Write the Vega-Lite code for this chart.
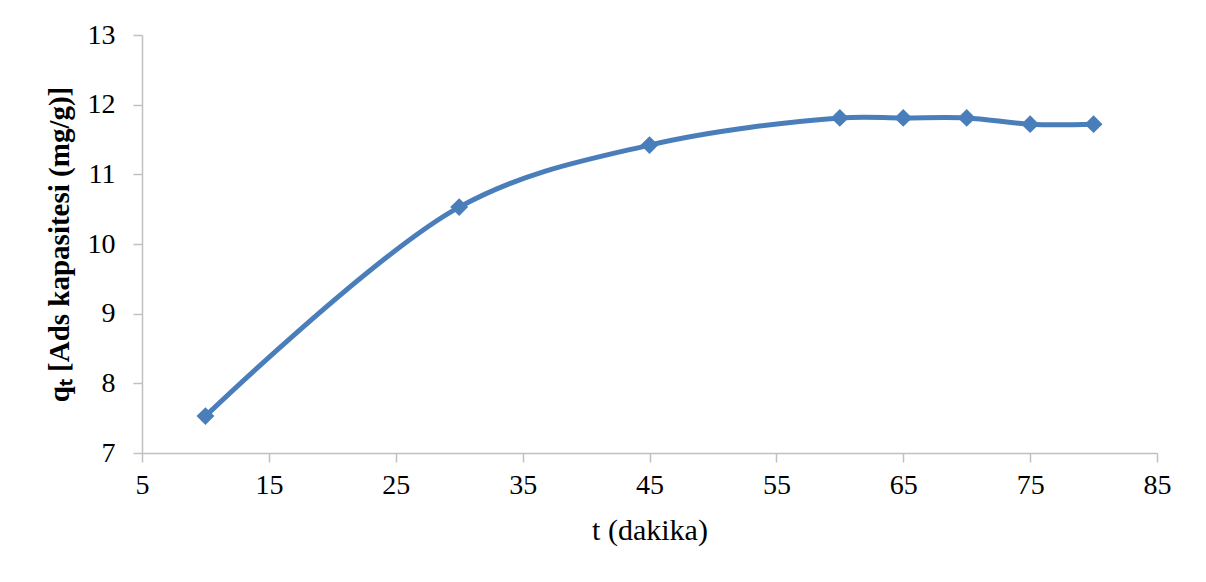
{
  "$schema": "https://vega.github.io/schema/vega-lite/v6.json",
  "autosize": "none",
  "width": 1015,
  "height": 418,
  "padding": {"left": 142, "top": 35, "right": 49, "bottom": 129},
  "background": "white",
  "config": {
    "view": {"stroke": null},
    "font": "Liberation Serif",
    "axis": {
      "grid": false,
      "domainColor": "#c0c0c0",
      "domainWidth": 1.5,
      "tickColor": "#c0c0c0",
      "tickWidth": 1.5,
      "labelFont": "Liberation Serif",
      "labelFontSize": 28,
      "labelColor": "#000000",
      "titleFont": "Liberation Serif",
      "titleColor": "#000000",
      "titleFontSize": 28
    }
  },
  "data": {
    "values": [
      {"t": 10, "q": 7.53},
      {"t": 30, "q": 10.53},
      {"t": 45, "q": 11.42},
      {"t": 60, "q": 11.81},
      {"t": 65, "q": 11.81},
      {"t": 70, "q": 11.81},
      {"t": 75, "q": 11.72},
      {"t": 80, "q": 11.72}
    ]
  },
  "encoding": {
    "x": {
      "field": "t",
      "type": "quantitative",
      "scale": {"domain": [5, 85], "nice": false, "zero": false},
      "axis": {
        "title": "t (dakika)",
        "titleFontWeight": "normal",
        "titleFontSize": 30,
        "titlePadding": 16,
        "values": [5, 15, 25, 35, 45, 55, 65, 75, 85],
        "tickSize": 9,
        "labelPadding": 9,
        "labelFlush": false
      }
    },
    "y": {
      "field": "q",
      "type": "quantitative",
      "scale": {"domain": [7, 13], "nice": false, "zero": false},
      "axis": {
        "title": "qₜ [Ads kapasitesi (mg/g)]",
        "titleFontWeight": "bold",
        "titleFontSize": 29,
        "titlePadding": 13,
        "values": [7, 8, 9, 10, 11, 12, 13],
        "tickSize": 9,
        "labelPadding": 18,
        "labelFlush": false
      }
    }
  },
  "layer": [
    {
      "mark": {"type": "line", "interpolate": "catmull-rom", "color": "#4a7ebb", "strokeWidth": 5}
    },
    {
      "mark": {"type": "point", "shape": "diamond", "filled": true, "color": "#4a7ebb", "opacity": 1, "size": 320}
    }
  ]
}
